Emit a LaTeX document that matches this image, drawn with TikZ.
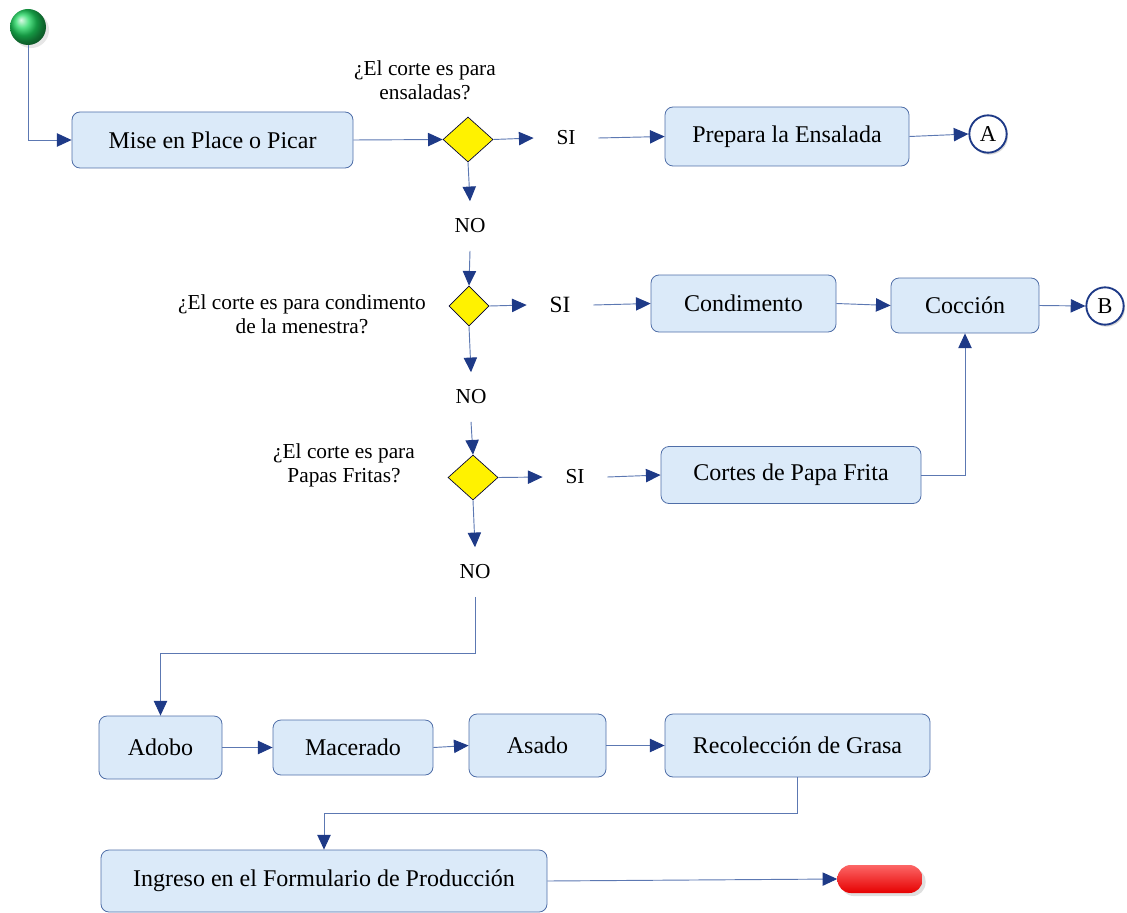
\documentclass[tikz,border=0pt]{standalone}
\usepackage{fontspec}
\setmainfont{Liberation Serif}
\usetikzlibrary{shapes.geometric,arrows.meta,shadows}
\definecolor{cajaFondo}{RGB}{219,234,249}
\definecolor{cajaBorde}{RGB}{79,110,168}
\definecolor{lineaAzul}{RGB}{92,120,178}
\definecolor{puntaAzul}{RGB}{30,58,135}
\definecolor{verdeIni}{RGB}{30,215,95}
\definecolor{rojoFin}{RGB}{250,0,0}

\begin{document}
\begin{tikzpicture}[x=0.75pt,y=0.75pt,yscale=-1,xscale=1,
  caja/.style={draw=cajaBorde, fill=cajaFondo, rounded corners=6pt, line width=0.6pt, font=\fontsize{18}{21}\selectfont, inner sep=0pt},
  decision/.style={diamond, draw=black!80!blue, fill=yellow, line width=0.5pt, inner sep=0pt},
  etiq/.style={font=\fontsize{16}{18}\selectfont, inner xsep=17pt, inner ysep=13pt},
  pregunta/.style={font=\fontsize{16}{18}\selectfont, align=center},
  conector/.style={circle, draw=puntaAzul, line width=1.4pt, fill=white, minimum size=28pt, inner sep=0pt, font=\fontsize{17}{20}\selectfont, drop shadow={opacity=0.3, shadow xshift=1pt, shadow yshift=-1.5pt}},
  flecha/.style={draw=lineaAzul, line width=0.7pt, -{Triangle[length=11pt,width=10pt,color=puntaAzul]}},
  linea/.style={draw=lineaAzul, line width=0.7pt}
]
\useasboundingbox (0,0) rectangle (1127,913);

%Shape: Start Circle
\node[circle, minimum size=27pt, inner sep=0pt, shading=ball, ball color=verdeIni, drop shadow={opacity=0.2}] (inicio) at (28,27) {};
%Shape: End Pill
\node[minimum width=63.75pt, minimum height=21pt, rounded corners=10pt, top color=rojoFin!60!white, middle color=rojoFin, bottom color=rojoFin!92!black, drop shadow={opacity=0.25}] (fin) at (880,879) {};

%Shape: Rounded Rect
\node[caja, minimum width=210.75pt, minimum height=42pt] (mise) at (212.5,140) {Mise en Place o Picar};
\node[caja, minimum width=183pt, minimum height=44.25pt] (prepara) at (787,136.5) {Prepara la Ensalada};
\node[caja, minimum width=138.75pt, minimum height=42.75pt] (condimento) at (743.5,303.5) {Condimento};
\node[caja, minimum width=111pt, minimum height=41.25pt] (coccion) at (965,305.5) {Cocción};
\node[caja, minimum width=195pt, minimum height=42.75pt] (cortes) at (791,475) {Cortes de Papa Frita};
\node[caja, minimum width=92.25pt, minimum height=47.25pt] (adobo) at (160.5,747.5) {Adobo};
\node[caja, minimum width=120pt, minimum height=41.25pt] (macerado) at (353,747.5) {Macerado};
\node[caja, minimum width=102.75pt, minimum height=47.25pt] (asado) at (537.5,745.5) {Asado};
\node[caja, minimum width=198.75pt, minimum height=47.25pt] (recoleccion) at (797.5,745.5) {Recolección de Grasa};
\node[caja, minimum width=334.5pt, minimum height=46.5pt] (ingreso) at (324,881) {Ingreso en el Formulario de Producción};

%Shape: Diamond
\node[decision, minimum width=37.5pt, minimum height=33.75pt] (d1) at (468,139.5) {};
\node[decision, minimum width=30pt, minimum height=30pt] (d2) at (469,306) {};
\node[decision, minimum width=37.5pt, minimum height=33.75pt] (d3) at (473,477.5) {};

%Shape: Off-page Connectors
\node[conector] (conA) at (988,134) {A};
\node[conector] (conB) at (1105,306) {B};

% Text Node
\node[pregunta] (q1) at (425,80) {¿El corte es para\\ensaladas?};
\node[pregunta] (q2) at (302,314) {¿El corte es para condimento\\de la menestra?};
\node[pregunta] (q3) at (344,465) {¿El corte es para\\Papas Fritas?};
\node[etiq] (si1) at (566,138) {SI};
\node[etiq] (no1) at (470,226) {NO};
\node[etiq, font=\fontsize{17.5}{20}\selectfont] (si2) at (560,305) {SI};
\node[etiq] (no2) at (471,397) {NO};
\node[etiq] (si3) at (575,477) {SI};
\node[etiq] (no3) at (475,572) {NO};

\coordinate (c1) at (475,653);
\coordinate (c2) at (797.5,813);

%Straight Lines
\draw[flecha] (inicio.south) |- (mise.west);
\draw[flecha] (mise.east) -- (d1.west);
\draw[flecha] (d1.east) -- (si1.west);
\draw[flecha] (si1.east) -- (prepara.west);
\draw[flecha] (prepara.east) -- (conA.west);
\draw[flecha] (d1.south) -- (no1.north);
\draw[flecha] (no1.south) -- (d2.north);
\draw[flecha] (d2.east) -- (si2.west);
\draw[flecha] (si2.east) -- (condimento.west);
\draw[flecha] (condimento.east) -- (coccion.west);
\draw[flecha] (coccion.east) -- (conB.west);
\draw[flecha] (d2.south) -- (no2.north);
\draw[flecha] (no2.south) -- (d3.north);
\draw[flecha] (d3.east) -- (si3.west);
\draw[flecha] (si3.east) -- (cortes.west);
\draw[flecha] (cortes.east) -| (coccion.south);
\draw[flecha] (d3.south) -- (no3.north);
\draw[flecha] (no3.south) -- (c1) -| (adobo.north);
\draw[flecha] (adobo.east) -- (macerado.west);
\draw[flecha] (macerado.east) -- (asado.west);
\draw[flecha] (asado.east) -- (recoleccion.west);
\draw[flecha] (recoleccion.south) -- (c2) -| (ingreso.north);
\draw[flecha] (ingreso.east) -- (fin.west);

\end{tikzpicture}
\end{document}
